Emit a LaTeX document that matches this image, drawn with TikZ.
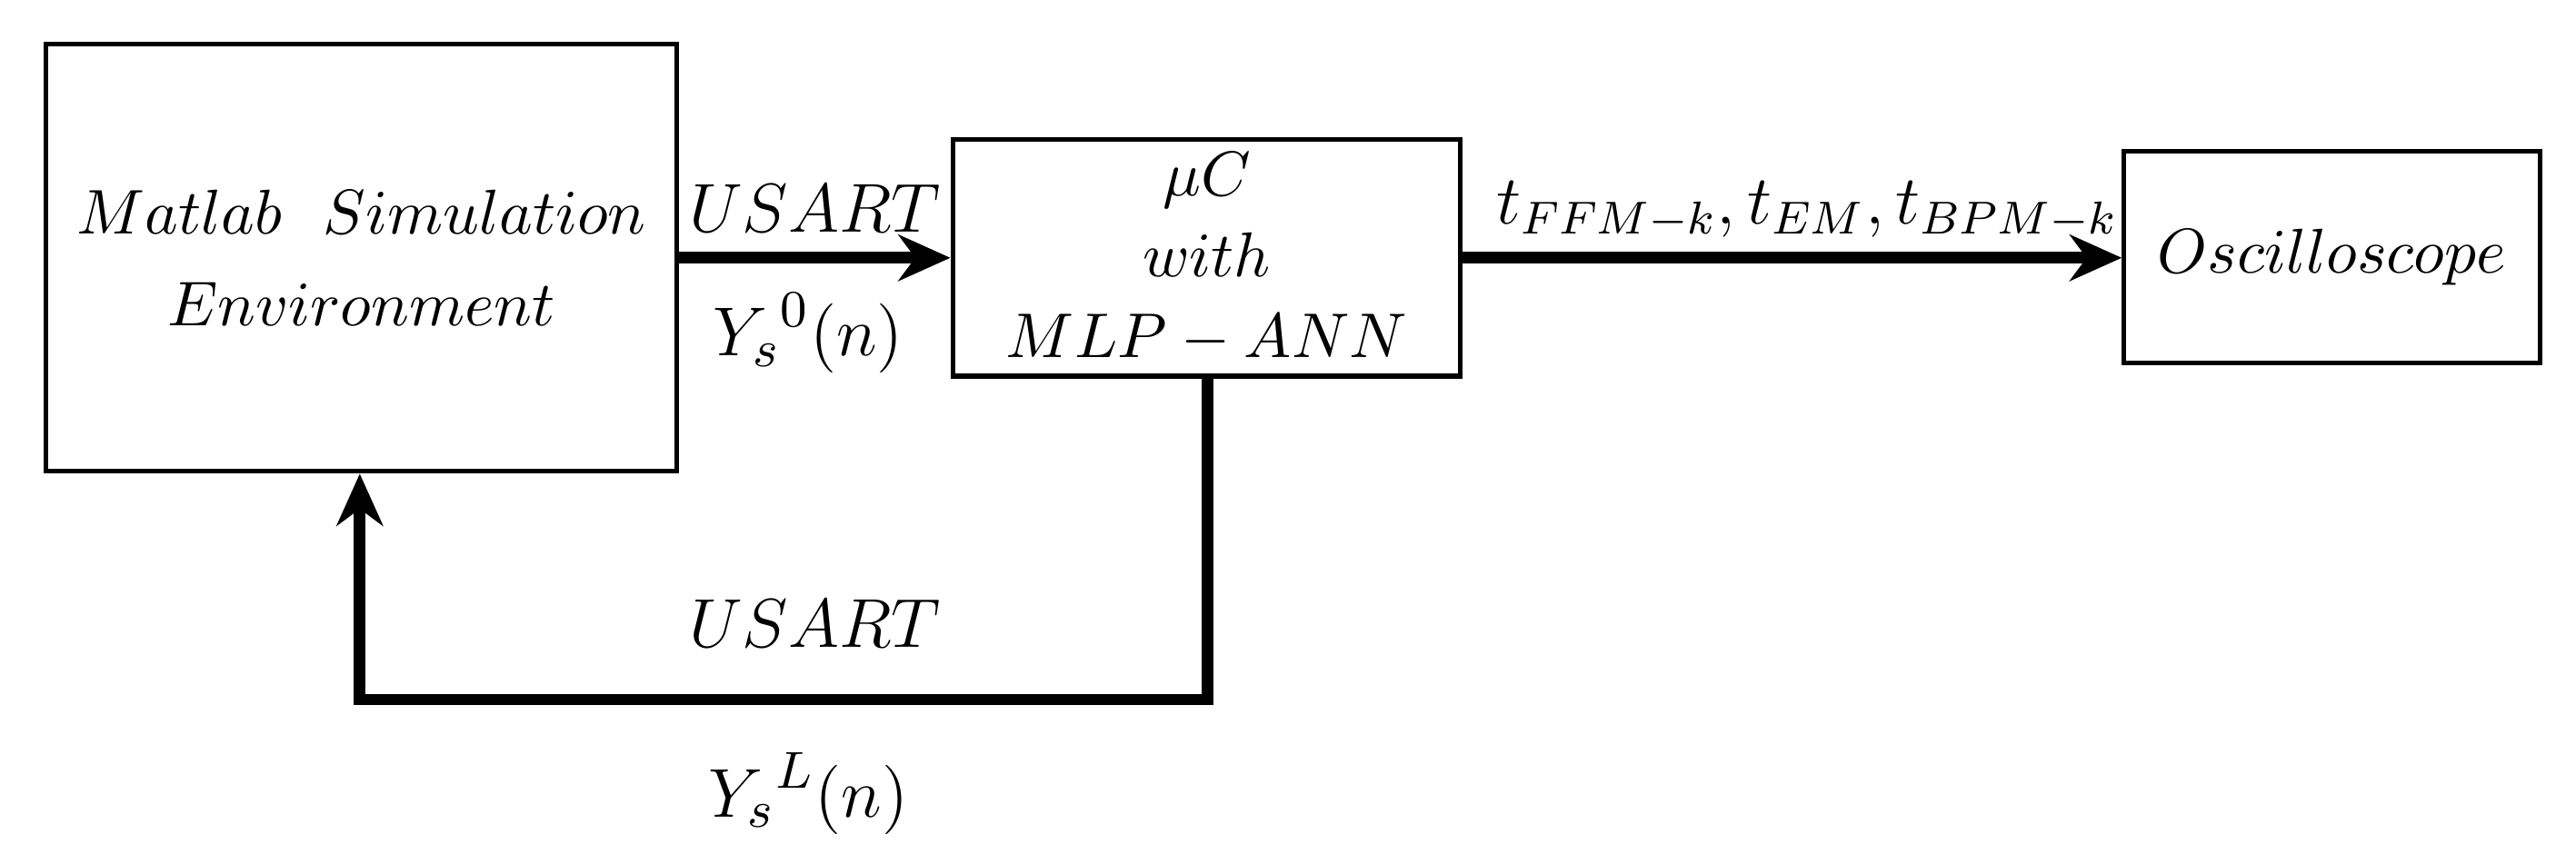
\documentclass[tikz,border=0pt]{standalone}
\usetikzlibrary{arrows.meta}
\begin{document}
\begin{tikzpicture}[x=0.01cm,y=-0.01cm,
  box/.style={draw,line width=0.8pt,inner sep=0},
  conn/.style={line width=2pt,-{Stealth[length=9pt,width=8pt]}},
  btxt/.style={align=center,font=\fontsize{11}{14}\selectfont},
  lbl/.style={font=\fontsize{12.2}{14}\selectfont}]
\useasboundingbox (0,0) rectangle (1568,526);
\node[box,minimum width=3.84cm,minimum height=2.6cm] (m) at (220,157) {};
\node[btxt] at (m.center) {$Matlab\ \ Simulation$\\[2pt]$Environment$};
\node[box,minimum width=3.09cm,minimum height=1.44cm] (u) at (734.5,157) {};
\node[btxt] at (u.center) {$\mu C$\\$with$\\$MLP-ANN$};
\node[box,minimum width=2.53cm,minimum height=1.29cm] (o) at (1419.5,156.5) {};
\node[btxt] at (o.center) {$Oscilloscope$};
\draw[conn] (m.east|-0,157) -- (u.west|-0,157);
\node[lbl] at (496,127) {$USART$};
\node[lbl] at (492,203) {${Y_s}^0(n)$};
\draw[conn] (u.east|-0,157) -- (o.west|-0,157);
\node[font=\fontsize{11.6}{14}\selectfont] at (1100,128) {$t_{FFM-k},t_{EM},t_{BPM-k}$};
\coordinate (c1) at (735,426);
\coordinate (c2) at (219,426);
\draw[conn] (u.south-|735,0) -- (c1) -- (c2) -- (m.south-|219,0);
\node[lbl] at (496,380) {$USART$};
\node[lbl] at (492,483) {${Y_s}^L(n)$};
\end{tikzpicture}
\end{document}
